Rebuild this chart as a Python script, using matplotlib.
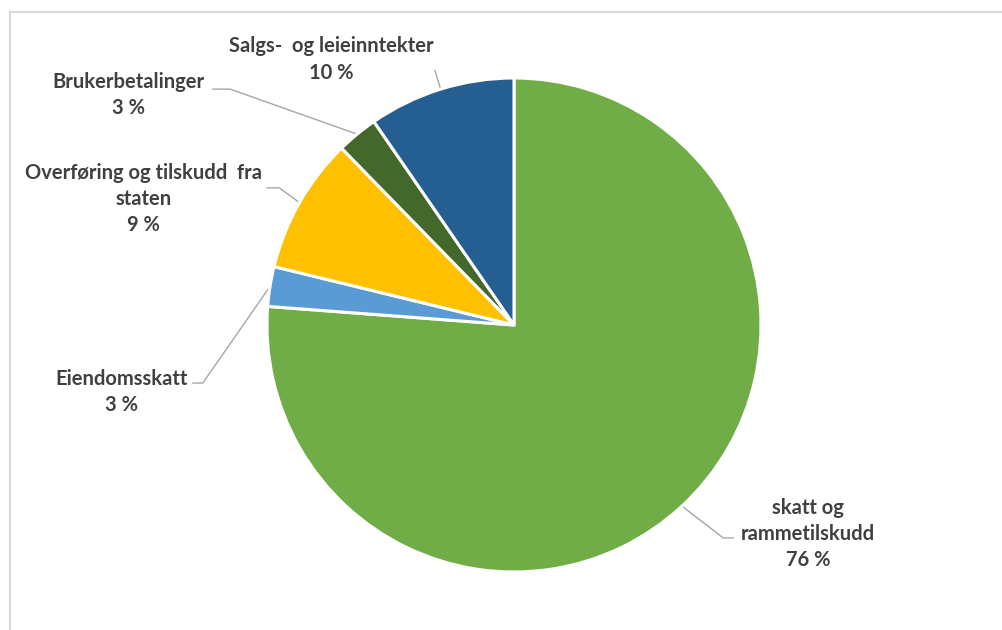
"""Kommunens inntekter fordelt på kilde - kakediagram."""
import numpy as np
from matplotlib import pyplot as plt
from matplotlib.lines import Line2D

# Data (andel i prosent), med klokka fra kl. 12
categories = ['skatt og\nrammetilskudd', 'Eiendomsskatt',
              'Overføring og tilskudd  fra\nstaten', 'Brukerbetalinger',
              'Salgs-  og leieinntekter']
shares = [76.2, 2.6, 8.9, 2.7, 9.6]
colors = ['#70AD47', '#5B9BD5', '#FFC000', '#43682B', '#255E91']

# Layout: label centre (in pie radii) and where the leader line meets the text
label_pos = [(1.19, -0.845), (-1.59, -0.27), (-1.50, 0.51), (-1.56, 0.93), (-0.74, 1.075)]
anchor_pos = [(0.887, -0.862), (-1.30, -0.235), (-1.0, 0.555), (-1.219, 0.955), (-0.32, 1.03)]
elbow_dx = [-0.04, 0.04, 0.05, 0.07, 0.0]

W, H = 1003, 630
CX, CY, R = 514, 325, 247

fig = plt.figure(figsize=(W / 100, H / 100), dpi=100)
ax = fig.add_axes([0, 0, 1, 1])

wedges, _ = ax.pie(shares, colors=colors, startangle=90, counterclock=False,
                   radius=1.0, wedgeprops=dict(edgecolor='white', linewidth=2.2))

font = dict(family=['Lato', 'DejaVu Sans'], weight='bold', size=14.5, color='#404040')
total = sum(shares)
for w, cat, val, (tx, ty), (axx, ayy), dx in zip(wedges, categories, shares,
                                                 label_pos, anchor_pos, elbow_dx):
    mid = np.deg2rad((w.theta1 + w.theta2) / 2)
    px, py = np.cos(mid), np.sin(mid)
    ax.plot([px, axx + dx, axx], [py, ayy, ayy], color='#A6A6A6', lw=1.0, zorder=0)
    ax.text(tx, ty, f'{cat}\n{100 * val / total:.0f} %', ha='center', va='center',
            multialignment='center', linespacing=1.38, **font)

ax.set_xlim(-CX / R, (W - CX) / R)
ax.set_ylim(-(H - CY) / R, CY / R)
ax.set_aspect('auto')
ax.axis('off')

# light border of the chart area
fig.add_artist(Line2D([10 / W, 10 / W], [0, 1 - 12 / H], color='#D9D9D9', lw=1.5))
fig.add_artist(Line2D([10 / W, 1], [1 - 12 / H, 1 - 12 / H], color='#D9D9D9', lw=1.5))

fig.savefig('out.png', dpi=100, facecolor='white')
